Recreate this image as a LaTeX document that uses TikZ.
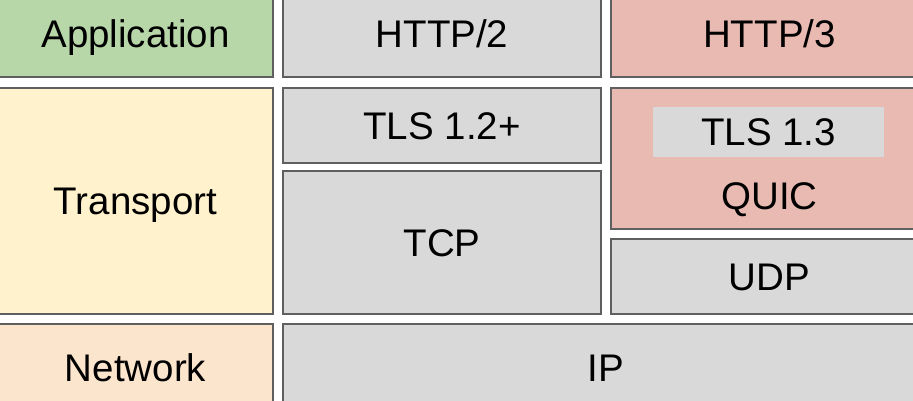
\documentclass[tikz,border=0pt]{standalone}
\usepackage{fontspec}
\setmainfont{Liberation Sans}
\definecolor{appgreen}{HTML}{B7D7A8}
\definecolor{transyellow}{HTML}{FFF2CC}
\definecolor{netpeach}{HTML}{FCE5CD}
\definecolor{quicred}{HTML}{E9BAB2}
\definecolor{boxgray}{HTML}{D9D9D9}
\definecolor{edgegray}{HTML}{5F5F5F}
\tikzset{
	label text/.style = {inner sep = 0pt, text height = 27.5pt, text depth = 0pt,
		font = \fontsize{38.5}{40}\selectfont},
	layer/.style = {label text, draw = edgegray, line width = 1.2pt}
}
\begin{document}
\begin{tikzpicture}[x = 1pt, y = -1pt]
		\useasboundingbox (0, 0) rectangle (913, 400);
		%%%%%%%%%%%%%
		\node[layer, fill = appgreen, minimum width = 275, minimum height = 86] (app) at (135.5, 34) {Application};
		\node[layer, fill = boxgray, minimum width = 318, minimum height = 86] (http2) at (442, 34) {HTTP/2};
		\node[layer, fill = quicred, minimum width = 317, minimum height = 86] (http3) at (769.5, 34) {HTTP/3};
		%%%%%%%%%%%%%
		\node[layer, fill = transyellow, minimum width = 275, minimum height = 226] (transport) at (135.5, 201) {Transport};
		\node[layer, fill = boxgray, minimum width = 318, minimum height = 75] (tls12) at (442, 125.5) {TLS 1.2+};
		\node[layer, fill = boxgray, minimum width = 318, minimum height = 143] (tcp) at (442, 242.5) {TCP};
		\node[layer, fill = quicred, minimum width = 317, minimum height = 141] (quic) at (769.5, 158.5) {};
		\node[label text, fill = boxgray, minimum width = 231, minimum height = 50] (tls13) at (768.5, 132) {TLS 1.3};
		\node[label text] (quictext) at (769.5, 196) {QUIC};
		\node[layer, fill = boxgray, minimum width = 317, minimum height = 75] (udp) at (769.5, 276.5) {UDP};
		%%%%%%%%%%%%%
		\node[layer, fill = netpeach, minimum width = 275, minimum height = 88] (network) at (135.5, 368) {Network};
		\node[layer, fill = boxgray, minimum width = 645, minimum height = 88] (ip) at (605.5, 368) {IP};
		%%%%%%%%%%%%%
	\end{tikzpicture}
\end{document}
